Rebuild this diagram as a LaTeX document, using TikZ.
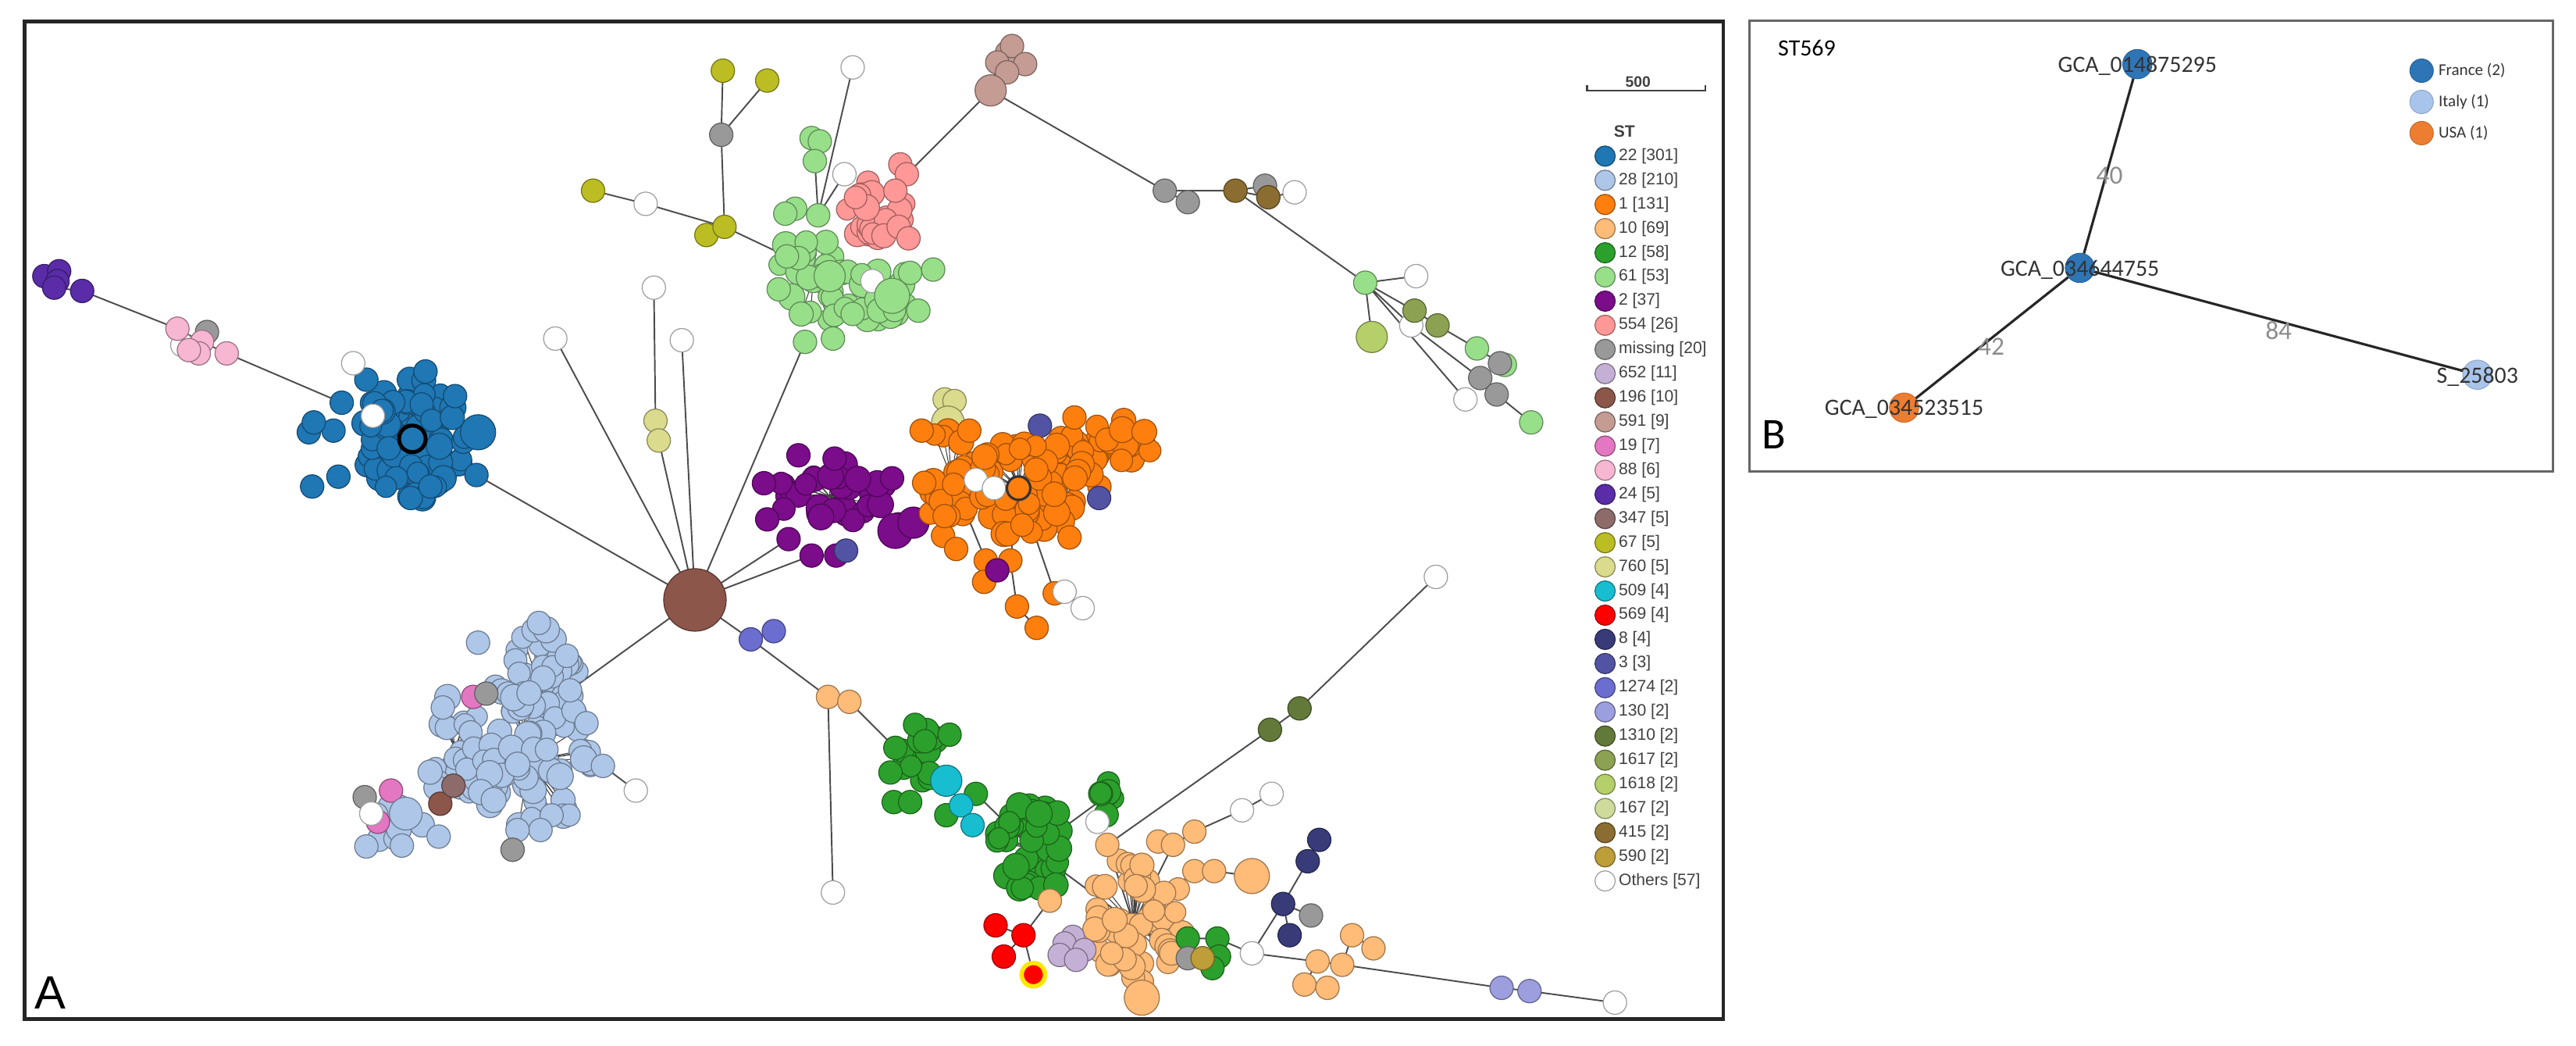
\documentclass[tikz,border=0pt]{standalone}
\usepackage{fontspec}
\setmainfont{Liberation Sans}
\newfontfamily\calib{Carlito}
\pgfdeclarelayer{edgelayer}
\pgfsetlayers{edgelayer,main}
\definecolor{c22}{HTML}{1F77B4}
\definecolor{c28}{HTML}{AEC7E8}
\definecolor{c1}{HTML}{FF7F0E}
\definecolor{c10}{HTML}{FFBB78}
\definecolor{c12}{HTML}{2CA02C}
\definecolor{c61}{HTML}{98DF8A}
\definecolor{c2}{HTML}{7B0C8A}
\definecolor{c554}{HTML}{FF9896}
\definecolor{cmiss}{HTML}{999999}
\definecolor{c652}{HTML}{C5B0D5}
\definecolor{c196}{HTML}{8C564B}
\definecolor{c591}{HTML}{C49C94}
\definecolor{c19}{HTML}{E377C2}
\definecolor{c88}{HTML}{F7B6D2}
\definecolor{c24}{HTML}{5A2CA8}
\definecolor{c347}{HTML}{8E6B6B}
\definecolor{c67}{HTML}{BCBD22}
\definecolor{c760}{HTML}{DBDB8D}
\definecolor{c509}{HTML}{17BECF}
\definecolor{c569}{HTML}{FF0000}
\definecolor{c8}{HTML}{393B79}
\definecolor{c3}{HTML}{5254A3}
\definecolor{c1274}{HTML}{6B6ECF}
\definecolor{c130}{HTML}{9C9EDE}
\definecolor{c1310}{HTML}{637939}
\definecolor{c1617}{HTML}{8CA252}
\definecolor{c1618}{HTML}{B5CF6B}
\definecolor{c167}{HTML}{CEDB9C}
\definecolor{c415}{HTML}{8C6D31}
\definecolor{c590}{HTML}{BD9E39}
\definecolor{cOth}{HTML}{FFFFFF}
\definecolor{cFr}{HTML}{2E75B6}
\definecolor{cIt}{HTML}{A9C4EB}
\definecolor{cUS}{HTML}{ED7D31}
\tikzset{
  st/.style={circle, draw=#1!62!black, fill=#1, line width=0.35pt, minimum size=0.3cm, inner sep=0pt, outer sep=0pt},
  link/.style={draw=black!70, line width=0.55pt},
  spoke/.style={draw=black!75, line width=0.3pt},
  lgt/.style={anchor=west, font=\fontsize{6}{7}\selectfont, text=black!75, inner sep=0pt},
  bnode/.style={circle, fill=#1, draw=#1!85!black, line width=0.3pt, minimum size=0.375cm, inner sep=0pt},
  blab/.style={font=\calib\fontsize{8.5}{9}\selectfont, text=black!80, inner sep=0pt},
  elab/.style={font=\calib\fontsize{9.5}{10}\selectfont, text=black!45, inner sep=0pt},
  blgt/.style={anchor=west, font=\calib\fontsize{6}{7}\selectfont, text=black!80, inner sep=0pt},
}
\newcommand\mkcluster[8]{%
  \coordinate (#1-c) at (#3,#4);%
  \pgfmathsetseed{#8}%
  \foreach \k in {1,...,#7}{%
    \pgfmathsetmacro\ang{360*rnd}%
    \pgfmathsetmacro\dd{sqrt(rnd)}%
    \pgfmathsetmacro\px{#3+#5*\dd*cos(\ang)}%
    \pgfmathsetmacro\py{#4+#6*\dd*sin(\ang)}%
    \pgfmathsetmacro\sz{0.27+0.07*rnd}%
    \draw[spoke] (#1-c) -- (\px,\py);%
  }%
  \pgfmathsetseed{#8}%
  \foreach \k in {1,...,#7}{%
    \pgfmathsetmacro\ang{360*rnd}%
    \pgfmathsetmacro\dd{sqrt(rnd)}%
    \pgfmathsetmacro\px{#3+#5*\dd*cos(\ang)}%
    \pgfmathsetmacro\py{#4+#6*\dd*sin(\ang)}%
    \pgfmathsetmacro\sz{0.27+0.07*rnd}%
    \node[st=#2, minimum size=\sz cm] (#1-\k) at (\px,\py) {};%
  }%
}
\begin{document}
\begin{tikzpicture}[x=0.02104cm, y=-0.02104cm]
\useasboundingbox (0,0) rectangle (1568,636);
% ---------------- Panel A frame
\draw[line width=1.3pt, black!85] (15,13) rectangle (1049,620);
\node[anchor=base west, font=\fontsize{17}{17}\selectfont, inner sep=0pt] (labA) at (21,614) {A};

% ---------------- light blue 28
\mkcluster{LBa}{c28}{326}{410}{26}{28}{38}{101}
\mkcluster{LBc}{c28}{277}{455}{18}{32}{24}{103}
\mkcluster{LBd}{c28}{243}{500}{18}{16}{10}{104}
\mkcluster{LBb}{c28}{322}{463}{40}{42}{75}{102}
\foreach \n/\c/\x/\y in {Lb1/c28/328/379, Lb2/c28/291/391, Lb3/c28/345/399, LBe/c28/347/420, Lb4/c28/357/440, Lb5/c28/367/466, Lb6/c28/223/515, Lb7/c28/267/509, Lb8/c28/329/505, Lb9/c28/315/505, pkA/c19/288/424, grA/cmiss/296/422, grL/cmiss/222/485, pkB/c19/238/481, pkC/c19/230/500, wL/cOth/226/495, brA/c196/268/489, brB/c347/276/478, grB/cmiss/312/517, wLB/cOth/387/481}
  {\node[st=\c] (\n) at (\x,\y) {};}
\node[st=c28, minimum size=0.42cm] (Lb10) at (247,495) {};

% ---------------- blue 22
\mkcluster{Bl}{c22}{251}{267}{32}{37}{85}{201}
\foreach \n/\c/\x/\y in {Bo1/c22/223/231, Bo2/c22/259/226, Bo3/c22/277/241, Be/c22/290/289, Bo6/c22/250/303, Bo7/c22/262/296, Bo8/c22/190/296, Bo9/c22/206/290, Bo10/c22/188/263, Bo11/c22/203/262, Bx/c22/208/245, Bo13/c22/191/257, Bw1/cOth/227/253, Bw2/cOth/215/221}
  {\node[st=\c] (\n) at (\x,\y) {};}
\node[st=c22, minimum size=0.45cm] (Bo4) at (291,263) {};
\node[st=c22, draw=black, line width=1.4pt, minimum size=0.34cm] (Bc) at (251,267) {};

% ---------------- 88 and 24
\foreach \n/\c/\x/\y in {Kg/cmiss/126/202, Kw/cOth/111/210, K1/c88/108/200, K2/c88/123/208, K3/c88/121/215, K5/c88/115/213, K4/c88/138/215, U1/c24/27/168, U2/c24/36/165, U3/c24/35/171, U4/c24/33/175, U5/c24/50/177}
  {\node[st=\c] (\n) at (\x,\y) {};}

% ---------------- 67 and hub whites
\foreach \n/\c/\x/\y in {Y1/c67/440/43, Y2/c67/467/49, Yg/cmiss/439/82, Y4/c67/430/143, Y3/c67/441/138, Yw/cOth/393/124, Y5/c67/361/116, W1/cOth/338/206, W2/cOth/398/175, W3/cOth/415/207, V1/c760/399/256, V2/c760/401/268}
  {\node[st=\c] (\n) at (\x,\y) {};}

% ---------------- light green 61 and pink 554
\mkcluster{LGa}{c61}{495}{170}{26}{30}{25}{301}
\mkcluster{LGb}{c61}{535}{180}{30}{16}{16}{302}
\mkcluster{PK}{c554}{532}{130}{20}{20}{22}{303}
\foreach \n/\c/\x/\y in {Lt1/c61/494/84, Lt2/c61/499/86, Lt3/c61/496/98, Lg1/c61/484/127, Lg2/c61/498/131, Lg3/c61/478/130, Lg4/c61/486/157, Lg5/c61/474/176, Lgb/c61/490/208, Lg7/c61/507/206, Lg8/c61/519/191, Lg10/c61/554/166, Lg11/c61/568/164, Lg12/c61/559/189, Lg13/c61/479/156, Lw1/cOth/531/171, Lw2/cOth/514/106, Wt/cOth/519/41, Pk1/c554/548/100, Pk5/c554/552/106, Pk2/c554/545/116, Pk3/c554/547/138, Pk4/c554/553/145}
  {\node[st=\c] (\n) at (\x,\y) {};}
\node[st=c61, minimum size=0.45cm] (Lg9) at (543,180) {};
\node[st=c61, minimum size=0.4cm] (Lg14) at (505,168) {};

% ---------------- 591 and the upper right branch
\foreach \n/\c/\x/\y in {Q2/c591/613/32, Q5/c591/616/28, Q3/c591/624/39, Q6/c591/607/38, Q4/c591/613/44, Gr1/cmiss/709/116, Gr2/cmiss/723/123, Br1/c415/752/116, Gr3/cmiss/770/113, Br2/c415/772/120, Wr/cOth/788/117, LGx/c61/831/172, Wx1/cOth/862/168, Wx2/cOth/859/198, F1/c1617/861/189, F2/c1617/875/198, LGy2/c61/916/222, LGy/c61/899/212, Gr4/cmiss/913/221, Gr5/cmiss/901/230, Gr6/cmiss/911/240, Wx3/cOth/892/243, LGz/c61/932/257}
  {\node[st=\c] (\n) at (\x,\y) {};}
\node[st=c591, minimum size=0.4cm] (Q1) at (603,55) {};
\node[st=c1618, minimum size=0.4cm] (Y18) at (835,205) {};

% ---------------- purple 2
\mkcluster{Pu}{c2}{505}{302}{36}{20}{28}{401}
\foreach \n/\c/\x/\y in {P1/c2/465/294, P2/c2/467/316, P3/c2/486/277, P4/c2/508/279, P5/c2/543/291, P6/c2/547/319, P7/c2/509/338, Pa/c2/480/328, Pb/c2/494/338, Ps/c3/515/335}
  {\node[st=\c] (\n) at (\x,\y) {};}
\node[st=c2, minimum size=0.45cm] (P8) at (545,323) {};
\node[st=c2, minimum size=0.4cm] (Pe) at (556,318) {};

% ---------------- orange 1
\foreach \n/\c/\x/\y in {V3/c760/575/243, V4/c760/581/244}
  {\node[st=\c] (\n) at (\x,\y) {};}
\node[st=c760, minimum size=0.42cm] (V5) at (577,257) {};
\node[st=c3] (N3a) at (633,259) {};
\mkcluster{Ob}{c1}{579}{290}{18}{32}{25}{501}
\mkcluster{Oc}{c1}{678}{268}{27}{13}{20}{502}
\mkcluster{Od}{c1}{650}{292}{20}{28}{25}{503}
\mkcluster{Oa}{c1}{620}{297}{27}{30}{45}{504}
\foreach \n/\c/\x/\y in {Oe1/c1/574/326, Oe2/c1/582/334, Oe3/c1/651/327, Oe4/c1/600/341, Oe5/c1/615/341, Oe6/c1/599/354, Oe7/c1/619/369, Oe8/c1/631/382, Oe9/c1/642/361, Oe10/c1/654/254, Oe11/c1/561/262, Oe12/c1/575/314, Oe13/c1/590/262, N3b/c3/669/303, Pq/c2/607/347, Ow1/cOth/594/292, Ow2/cOth/605/297, Ow3/cOth/648/360, Ow4/cOth/659/370}
  {\node[st=\c] (\n) at (\x,\y) {};}
\node[st=c1, draw=black!80, line width=0.9pt] (Oc0) at (620,297) {};

% ---------------- green 12, cyan, light orange 10
\mkcluster{Ga}{c12}{558}{462}{16}{20}{12}{601}
\foreach \n/\c/\x/\y in {Gn1/c12/557/441, Gn2/c12/578/447, Gn3/c12/545/455, Gn4/c12/542/470, Gn5/c12/544/488, Gn6/c12/554/488, Gn7/c12/576/496, Gn8/c12/594/483, Gn9/c12/563/451, C2/c509/585/490, C3/c509/592/502}
  {\node[st=\c] (\n) at (\x,\y) {};}
\node[st=c509, minimum size=0.4cm] (C1) at (576,475) {};
\mkcluster{Gb}{c12}{629}{517}{24}{30}{40}{602}
\mkcluster{Gc}{c12}{670}{487}{13}{12}{8}{603}
\node[st=cOth] (Wg) at (668,500) {};
\mkcluster{Lo}{c10}{690}{562}{32}{40}{50}{701}
\foreach \n/\c/\x/\y in {Lo5/c10/705/512, Ly2/c10/714/514, Ly/c10/727/506, Lq1/c10/727/530, Lq2/c10/739/530, LOx/c10/674/514, LOe/c10/639/548, M5/c652/653/570, M1/c652/648/574, M2/c652/660/578, M3/c652/645/581, M4/c652/655/584, Gq1/c12/723/571, Gq2/c12/741/571, Gq4/c12/742/582, Gq3/c12/738/589, Gqg/cmiss/723/583, Au/c590/732/583, R1/c569/606/563, R2/c569/623/569, R3/c569/611/582, Wy1/cOth/756/493, Wy2/cOth/774/483, WH/cOth/762/580, E1/c8/803/511, E2/c8/796/524, E3/c8/781/550, Eg/cmiss/798/557, E4/c8/785/569, Ls1/c10/802/585, Ls2/c10/817/587, Ls3/c10/823/569, Ls4/c10/836/577, Ls5/c10/794/599, Ls6/c10/808/601, X1/c130/914/601, X2/c130/931/603, Wend/cOth/983/610, T1/c1310/773/444, T2/c1310/791/431, WT/cOth/874/351, S1/c1274/457/389, S2/c1274/471/384, La/c10/504/424, Lb/c10/517/427, Wb/cOth/507/543}
  {\node[st=\c] (\n) at (\x,\y) {};}
\node[st=c10, minimum size=0.45cm] (Lq3) at (762,533) {};
\node[st=c10, minimum size=0.45cm] (Lbig) at (695,607) {};
\node[st=c569, draw=yellow!90!orange, line width=1.6pt] (R4) at (629,593) {};

% ---------------- hub
\node[st=c196, minimum size=0.8cm] (H) at (423,365) {};

% ---------------- connectors
\begin{pgfonlayer}{edgelayer}
\draw[link] (H) -- (W1) (H) -- (V2) (V2) -- (V1) (V1) -- (W2) (H) -- (W3)
  (H) -- (Lgb) (H) -- (Pa) (H) -- (Pb) (H) -- (LBe) (H) -- (Be)
  (H) -- (S1) (S1) -- (S2) (S1) -- (La) (La) -- (Lb) (La) -- (Wb) (Lb) -- (Gn3)
  (Gn8) -- (Gb-c) (Ga-c) -- (C1) (C1) -- (C2) (C2) -- (C3)
  (R2) -- (R1) (R2) -- (R3) (R2) -- (R4) (R2) -- (LOe)
  (LOx) -- (T1) (T1) -- (T2) (T2) -- (WT)
  (Lb5) -- (wLB) (Lb9) -- (grB)
  (U4) -- (U5) (U5) -- (K1) (K1) -- (K2) (K2) -- (K4) (K4) -- (Bx)
  (Pe) -- (Oe12)
  (Y1) -- (Yg) (Y2) -- (Yg) (Yg) -- (Y3) (Y3) -- (Yw) (Yw) -- (Y5) (Y3) -- (Lg13) (Y3) -- (Y4)
  (Wt) -- (Lg2) (Lt3) -- (Lg2) (Lt1) -- (Lt3) (Lw2) -- (Lg2)
  (Pk5) -- (Q1) (Q1) -- (Q6) (Q6) -- (Q2) (Q6) -- (Q3) (Q6) -- (Q4) (Q2) -- (Q5)
  (Q1) -- (Gr1) (Gr1) -- (Gr2) (Gr1) -- (Br1) (Br1) -- (Gr3) (Br1) -- (Br2) (Br2) -- (Wr)
  (Br1) -- (LGx) (LGx) -- (Wx1) (LGx) -- (Y18) (LGx) -- (F1) (F1) -- (F2) (F2) -- (LGy) (LGy) -- (Gr4) (Gr4) -- (LGy2)
  (LGx) -- (Wx2) (Wx2) -- (Gr5) (Gr5) -- (Gr6) (Gr6) -- (LGz) (LGx) -- (Wx3)
  (Oa-c) -- (Oe5) (Oe5) -- (Oe7) (Oe7) -- (Oe8) (Oa-c) -- (Oe9) (Oe9) -- (Ow3) (Ow3) -- (Ow4) (Ob-c) -- (Oe4) (Oe4) -- (Oe6) (Oe4) -- (Pq)
  (Gq2) -- (WH) (WH) -- (E3) (E3) -- (E2) (E2) -- (E1) (E3) -- (Eg) (E3) -- (E4)
  (WH) -- (Ls1) (Ls1) -- (Ls2) (Ls2) -- (X1) (X1) -- (X2) (X2) -- (Wend) (Ls2) -- (Ls3) (Ls3) -- (Ls4) (Ls1) -- (Ls5) (Ls5) -- (Ls6)
  (Lo-c) -- (Ly2) (Ly2) -- (Ly) (Ly) -- (Wy1) (Wy1) -- (Wy2) (Lo-c) -- (Lq1) (Lq1) -- (Lq2) (Lq2) -- (Lq3)
  (Lo-c) -- (LOx) (Lo-c) -- (Gq1) (Gq1) -- (Gq2) (Lo-c) -- (Lbig) (Gb-c) -- (Lo-c) (Gb-c) -- (Gc-c);
\end{pgfonlayer}

% ---------------- scale bar and legend
\node[font=\bfseries\fontsize{5.5}{6}\selectfont, text=black!75, inner sep=0pt] (sb) at (997,50) {500};
\draw[line width=0.7pt, black!75] (966,52) -- (966,55) -- (1038,55) -- (1038,52);
\node[anchor=west, font=\bfseries\fontsize{6}{7}\selectfont, text=black!75, inner sep=0pt] (sthead) at (982,80) {ST};
\foreach \c/\t [count=\i] in {c22/{22 [301]}, c28/{28 [210]}, c1/{1 [131]}, c10/{10 [69]}, c12/{12 [58]}, c61/{61 [53]}, c2/{2 [37]}, c554/{554 [26]}, cmiss/{missing [20]}, c652/{652 [11]}, c196/{196 [10]}, c591/{591 [9]}, c19/{19 [7]}, c88/{88 [6]}, c24/{24 [5]}, c347/{347 [5]}, c67/{67 [5]}, c760/{760 [5]}, c509/{509 [4]}, c569/{569 [4]}, c8/{8 [4]}, c3/{3 [3]}, c1274/{1274 [2]}, c130/{130 [2]}, c1310/{1310 [2]}, c1617/{1617 [2]}, c1618/{1618 [2]}, c167/{167 [2]}, c415/{415 [2]}, c590/{590 [2]}, cOth/{Others [57]}}{
  \pgfmathsetmacro\ly{95+(\i-1)*14.7}
  \node[st=\c, minimum size=0.26cm] (lg\i) at (977,\ly) {};
  \node[lgt] (lgt\i) at (985,\ly) {\t};
}

% ---------------- Panel B
\draw[line width=0.9pt, black!60] (1065,12.5) rectangle (1554,287);
\node[anchor=west, font=\calib\fontsize{8.5}{9}\selectfont, inner sep=0pt] (st569) at (1082,29) {ST569};
\node[bnode=cFr] (n1) at (1301,39) {};
\node[bnode=cFr] (n2) at (1266,163) {};
\node[bnode=cUS] (n3) at (1159,248) {};
\node[bnode=cIt] (n4) at (1508,228) {};
\draw[line width=0.9pt, black!85] (n1) -- (n2) (n2) -- (n3) (n2) -- (n4);
\node[elab] (e40) at (1284,107) {40};
\node[elab] (e42) at (1212,211) {42};
\node[elab] (e84) at (1387,201) {84};
\node[blab] (t1) at (1301,40) {GCA\_014875295};
\node[blab] (t2) at (1266,164) {GCA\_034644755};
\node[blab] (t3) at (1159,249) {GCA\_034523515};
\node[blab] (t4) at (1508,229) {S\_25803};
\node[bnode=cFr, minimum size=0.3cm] (lf) at (1474,43) {};
\node[bnode=cIt, minimum size=0.3cm] (li) at (1474,62) {};
\node[bnode=cUS, minimum size=0.3cm] (lu) at (1474,81) {};
\node[blgt] (lft) at (1484,43) {France (2)};
\node[blgt] (lit) at (1484,62) {Italy (1)};
\node[blgt] (lut) at (1484,81) {USA (1)};
\node[anchor=base west, font=\calib\fontsize{16}{16}\selectfont, inner sep=0pt] (labB) at (1072,273) {B};
\end{tikzpicture}
\end{document}
